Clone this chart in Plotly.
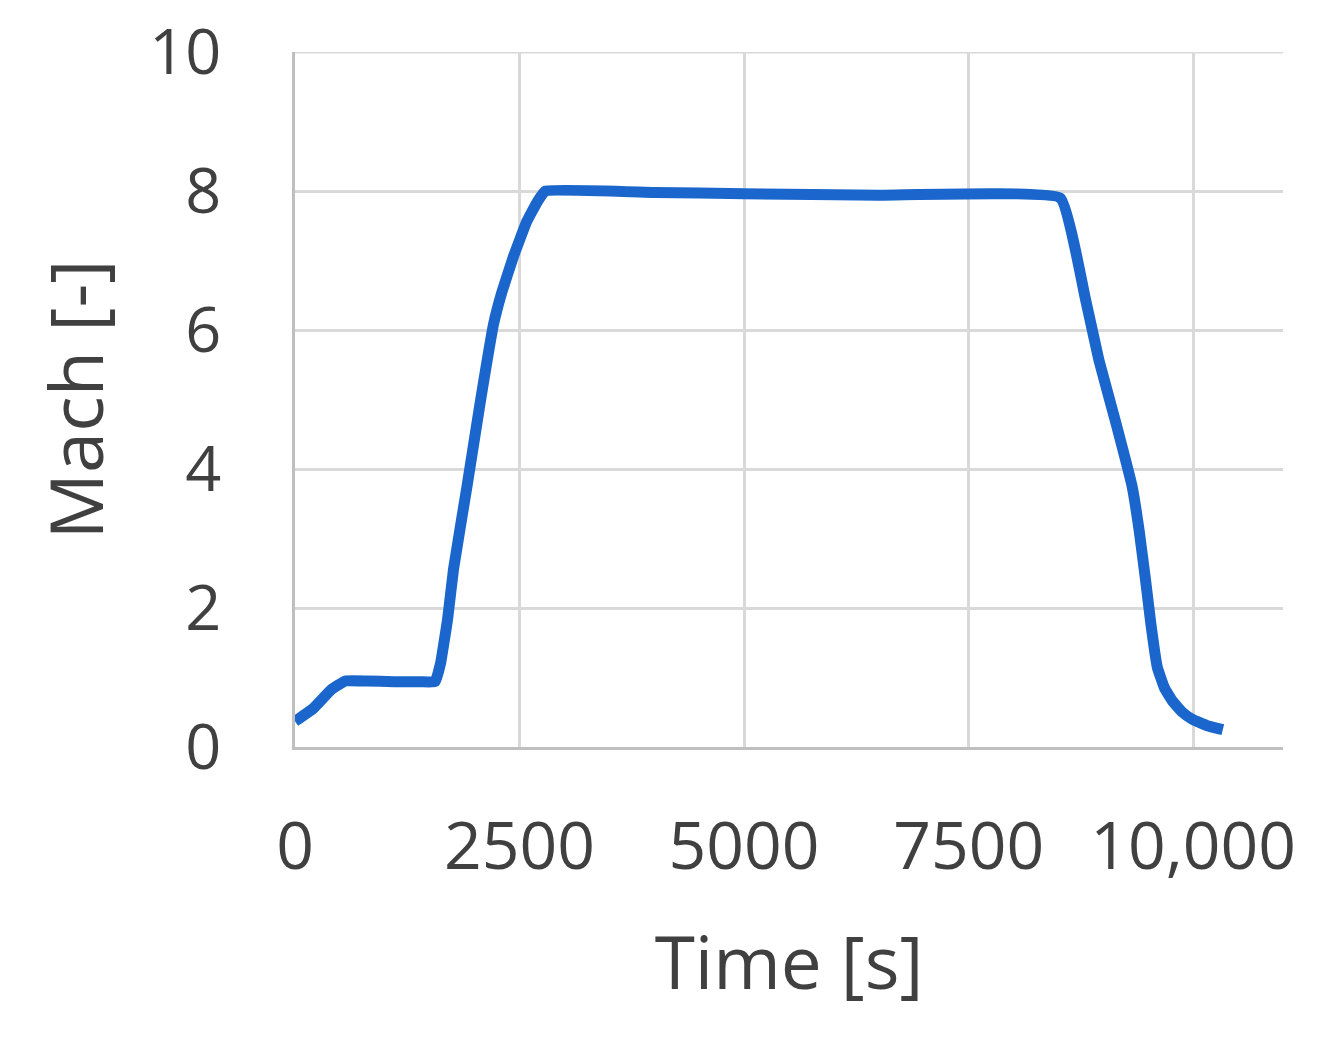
import plotly.graph_objects as go

# Flight profile
time_s = [0, 200, 400, 560, 800, 1100, 1400, 1560, 1620, 1700, 1765, 1915, 2060,
          2210, 2300, 2430, 2580, 2700, 2790, 4000, 5000, 6500, 8520, 8800, 8950,
          9140, 9320, 9400, 9470, 9530, 9600, 9680, 9770, 9880, 9990, 10150, 10330]
mach = [0.37, 0.55, 0.82, 0.95, 0.95, 0.94, 0.94, 0.94, 1.2, 1.85, 2.56, 3.75, 4.94,
        6.08, 6.53, 7.05, 7.56, 7.85, 8.0, 7.98, 7.96, 7.94, 7.90, 6.45, 5.57,
        4.66, 3.75, 3.1, 2.4, 1.76, 1.15, 0.85, 0.66, 0.5, 0.40, 0.31, 0.25]

x_ticks = [0, 2500, 5000, 7500, 10000]
x_labels = ["0", "2500", "5000", "7500", "10,000"]
y_ticks = [0, 2, 4, 6, 8, 10]

text_color = "#404040"
grid_color = "#d9d9d9"

fig = go.Figure(go.Scatter(
    x=time_s, y=mach, mode="lines",
    line=dict(color="#1A66CC", width=11, shape="spline", smoothing=0.3),
    showlegend=False,
))

# page body has an 8px margin, so the figure is 16px smaller than the window
fig.update_layout(
    width=1323, height=1028,
    margin=dict(l=287, r=48, t=44, b=289),
    paper_bgcolor="white", plot_bgcolor="white",
    font=dict(family="Open Sans, sans-serif", color=text_color, size=66),
)
fig.update_xaxes(
    range=[0, 11000], tickvals=x_ticks, ticktext=x_labels,
    showgrid=True, gridcolor=grid_color, gridwidth=3,
    showline=True, linecolor="#bfbfbf", linewidth=3, automargin=False,
    zeroline=False, ticks="", ticklabelstandoff=40, ticklabeloverflow="allow",
    tickfont=dict(size=66),
    title=dict(text="Time [s]", font=dict(size=73), standoff=51),
)
fig.update_yaxes(
    range=[0, 10], tickvals=y_ticks,
    showgrid=True, gridcolor=grid_color, gridwidth=3,
    showline=True, linecolor="#bfbfbf", linewidth=3, automargin=False,
    zeroline=False, ticks="", ticklabelstandoff=58, ticklabeloverflow="allow",
    tickfont=dict(size=63),
    title=dict(text="Mach [-]", font=dict(size=74), standoff=22),
)
# top border line at y = 10 (gridline at the range edge)
fig.add_hline(y=10, line=dict(color=grid_color, width=3), layer="below")

fig.write_html("out.html")
